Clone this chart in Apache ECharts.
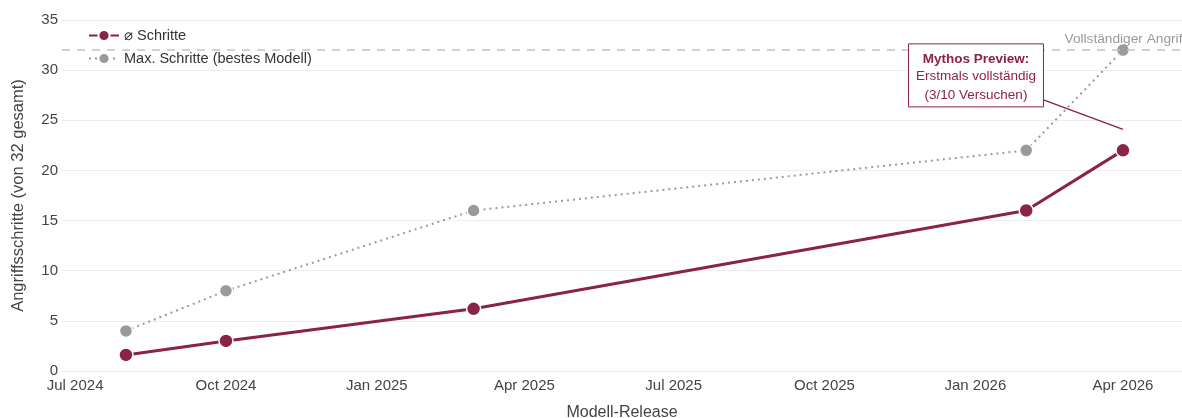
<!DOCTYPE html>
<html>
<head>
<meta charset="utf-8">
<script src="https://cdn.jsdelivr.net/npm/echarts@6/dist/echarts.min.js"></script>
<style>
html,body{margin:0;padding:0;background:#fff;}
#chart{width:1182px;height:418px;}
</style>
</head>
<body>
<div id="chart"></div>
<script>
// ---- data ----
const releaseDates = ['2024-08-01', '2024-10-01', '2025-03-01', '2026-02-01', '2026-04-01'];
const avgSteps = [1.6, 3.0, 6.2, 16, 22];
const maxSteps = [4, 8, 16, 22, 32];
const totalSteps = 32;
const xRange = ['2024-06-23', '2026-05-07'];
const xTickDates = ['2024-07-01', '2024-10-01', '2025-01-01', '2025-04-01', '2025-07-01', '2025-10-01', '2026-01-01', '2026-04-01'];
const xTickLabels = ['Jul 2024', 'Oct 2024', 'Jan 2025', 'Apr 2025', 'Jul 2025', 'Oct 2025', 'Jan 2026', 'Apr 2026'];
const seriesNames = ['\u2300 Schritte', 'Max. Schritte (bestes Modell)'];
const refLabel = 'Vollst\u00e4ndiger Angriff';
const annotationLines = ['Mythos Preview:', 'Erstmals vollst\u00e4ndig', '(3/10 Versuchen)'];

const RED = '#8b2343';
const GREY = '#9a9a9a';
const FONT = '"Liberation Sans", Arial, Helvetica, sans-serif';

const ts = s => Date.parse(s);
const avgData = releaseDates.map((d, i) => [ts(d), avgSteps[i]]);
const maxData = releaseDates.map((d, i) => [ts(d), maxSteps[i]]);
const tickValues = xTickDates.map(ts);
const tickLabelMap = {};
tickValues.forEach((v, i) => { tickLabelMap[v] = xTickLabels[i]; });

const chart = echarts.init(document.getElementById('chart'), null, {renderer: 'canvas'});
const option = {
  animation: false,
  backgroundColor: '#fff',
  textStyle: {fontFamily: FONT},
  grid: {left: 62, right: 0, top: 20, bottom: 47, containLabel: false, outerBoundsMode: 'none'},
  legend: {
    orient: 'vertical',
    left: 83, top: 25,
    padding: [3, 5, 3, 5],
    backgroundColor: '#fff',
    itemWidth: 30, itemHeight: 14, itemGap: 8,
    textStyle: {fontSize: 14.5, color: '#333', fontFamily: FONT},
    data: seriesNames
  },
  xAxis: {
    type: 'value',
    min: ts(xRange[0]), max: ts(xRange[1]),
    name: 'Modell-Release',
    nameLocation: 'middle',
    nameGap: 34,
    nameTextStyle: {fontSize: 16, color: '#444', fontFamily: FONT},
    axisLine: {show: false},
    axisTick: {show: false},
    splitLine: {show: false},
    axisLabel: {
      customValues: tickValues,
      fontSize: 15, color: '#444', margin: 7, fontFamily: FONT,
      formatter: function (v) {
        return tickLabelMap[v] !== undefined ? tickLabelMap[v] : '';
      }
    }
  },
  yAxis: {
    type: 'value',
    min: 0, max: 35, interval: 5,
    name: 'Angriffsschritte (von 32 gesamt)',
    nameLocation: 'middle',
    nameGap: 35,
    nameTextStyle: {fontSize: 16.5, color: '#444', fontFamily: FONT},
    axisLine: {show: false},
    axisTick: {show: false},
    axisLabel: {fontSize: 15, color: '#444', margin: 4, fontFamily: FONT},
    splitLine: {lineStyle: {color: '#efedea', width: 1}}
  },
  series: [
    {
      name: seriesNames[1],
      type: 'line',
      data: maxData,
      z: 3,
      symbol: 'circle', symbolSize: 13,
      lineStyle: {color: GREY, width: 2, type: [2, 4]},
      itemStyle: {color: GREY, borderColor: '#fff', borderWidth: 1.5},
      markLine: {
        silent: true,
        symbol: 'none',
        lineStyle: {color: '#c4c4c4', type: [8, 7], width: 1.5},
        label: {
          position: 'insideEndTop',
          formatter: refLabel,
          color: '#999', fontSize: 13.7, fontFamily: FONT, distance: [0, 4],
          offset: [4, 0]
        },
        data: [{yAxis: totalSteps}]
      }
    },
    {
      name: seriesNames[0],
      type: 'line',
      data: avgData,
      z: 4,
      symbol: 'circle', symbolSize: 14,
      lineStyle: {color: RED, width: 3},
      itemStyle: {color: RED, borderColor: '#fff', borderWidth: 1.5}
    }
  ]
};
chart.setOption(option);

// annotation anchored to last point of the average series
const last = avgData.length - 1;
const p = chart.convertToPixel({xAxisIndex: 0, yAxisIndex: 0}, avgData[last]);
const boxW = 135, boxH = 63;
const bx = p[0] - 147 - boxW / 2, by = p[1] - 75 - boxH / 2;
chart.setOption({
  graphic: [
    {type: 'line', z: 10, shape: {x1: bx + boxW, y1: by + boxH - 7, x2: p[0], y2: p[1] - 21},
     style: {stroke: RED, lineWidth: 1.5}},
    {type: 'rect', z: 11, shape: {x: bx, y: by, width: boxW, height: boxH},
     style: {fill: '#fff', stroke: RED, lineWidth: 1}},
    {type: 'text', z: 12, x: bx + boxW / 2, y: by + 15,
     style: {text: annotationLines[0], fill: RED, font: 'bold 13.5px ' + FONT, align: 'center', verticalAlign: 'middle'}},
    {type: 'text', z: 12, x: bx + boxW / 2, y: by + 32,
     style: {text: annotationLines[1], fill: RED, font: '13.5px ' + FONT, align: 'center', verticalAlign: 'middle'}},
    {type: 'text', z: 12, x: bx + boxW / 2, y: by + 51,
     style: {text: annotationLines[2], fill: RED, font: '13.5px ' + FONT, align: 'center', verticalAlign: 'middle'}}
  ]
});
</script>
</body>
</html>
